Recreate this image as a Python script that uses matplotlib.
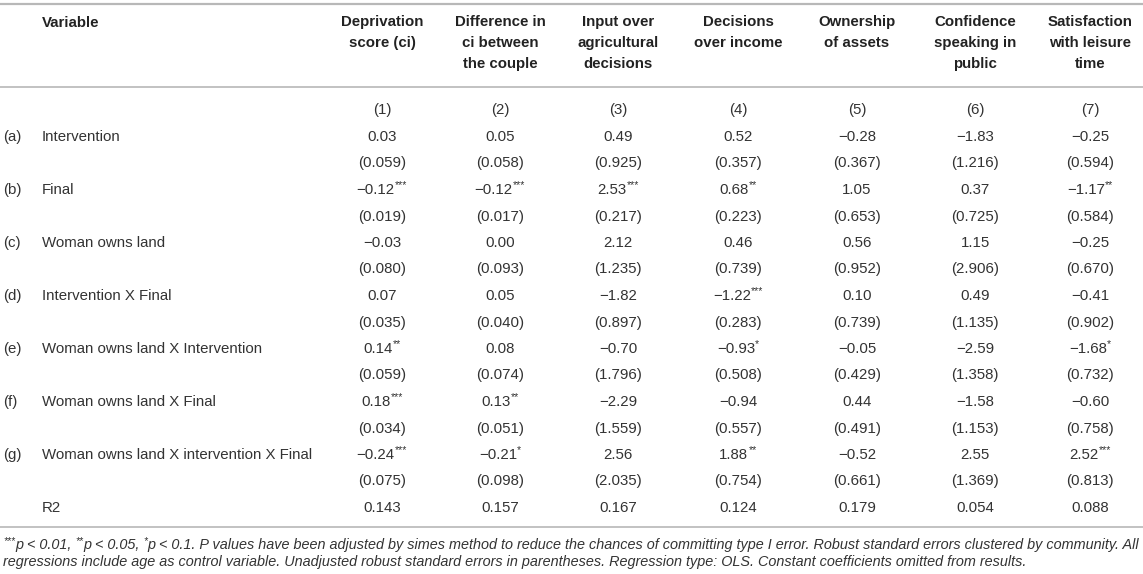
import matplotlib.pyplot as plt

plt.rcParams['font.family'] = ['Liberation Sans', 'DejaVu Sans']

# table content
outcomes = ["Deprivation\nscore (ci)", "Difference in\nci between\nthe couple",
            "Input over\nagricultural\ndecisions", "Decisions\nover income",
            "Ownership\nof assets", "Confidence\nspeaking in\npublic",
            "Satisfaction\nwith leisure\ntime"]
col_numbers = ["(1)", "(2)", "(3)", "(4)", "(5)", "(6)", "(7)"]
letters = ["(a)", "(b)", "(c)", "(d)", "(e)", "(f)", "(g)"]
variables = ["Intervention", "Final", "Woman owns land", "Intervention X Final",
             "Woman owns land X Intervention", "Woman owns land X Final",
             "Woman owns land X intervention X Final"]
coef = [
    [0.03, 0.05, 0.49, 0.52, -0.28, -1.83, -0.25],
    [-0.12, -0.12, 2.53, 0.68, 1.05, 0.37, -1.17],
    [-0.03, 0.00, 2.12, 0.46, 0.56, 1.15, -0.25],
    [0.07, 0.05, -1.82, -1.22, 0.10, 0.49, -0.41],
    [0.14, 0.08, -0.70, -0.93, -0.05, -2.59, -1.68],
    [0.18, 0.13, -2.29, -0.94, 0.44, -1.58, -0.60],
    [-0.24, -0.21, 2.56, 1.88, -0.52, 2.55, 2.52],
]
stars = [
    ["", "", "", "", "", "", ""],
    ["***", "***", "***", "**", "", "", "**"],
    ["", "", "", "", "", "", ""],
    ["", "", "", "***", "", "", ""],
    ["**", "", "", "*", "", "", "*"],
    ["***", "**", "", "", "", "", ""],
    ["***", "*", "", "**", "", "", "***"],
]
se = [
    [0.059, 0.058, 0.925, 0.357, 0.367, 1.216, 0.594],
    [0.019, 0.017, 0.217, 0.223, 0.653, 0.725, 0.584],
    [0.080, 0.093, 1.235, 0.739, 0.952, 2.906, 0.670],
    [0.035, 0.040, 0.897, 0.283, 0.739, 1.135, 0.902],
    [0.059, 0.074, 1.796, 0.508, 0.429, 1.358, 0.732],
    [0.034, 0.051, 1.559, 0.557, 0.491, 1.153, 0.758],
    [0.075, 0.098, 2.035, 0.754, 0.661, 1.369, 0.813],
]
r2 = [0.143, 0.157, 0.167, 0.124, 0.179, 0.054, 0.088]
# (text, superscript?) runs of the note under the table
note_line1 = [("***", True), ("p < 0.01, ", False), ("**", True), ("p < 0.05, ", False),
              ("*", True), ("p < 0.1. P values have been adjusted by simes method to reduce the chances "
                            "of committing type I error. Robust standard errors clustered by community. All", False)]
note_line2 = "regressions include age as control variable. Unadjusted robust standard errors in parentheses. " \
             "Regression type: OLS. Constant coefficients omitted from results."


def fmt(v, d):
    return f"{v:.{d}f}".replace("-", "\u2212")


W, H = 1143, 574
fig = plt.figure(figsize=(W / 100, H / 100), dpi=100)
ax = fig.add_axes([0, 0, 1, 1])
ax.set_xlim(0, W)
ax.set_ylim(H, 0)
ax.axis('off')
renderer = fig.canvas.get_renderer()

fs = 10.85
fs_note = 10.4
body = '#333333'
line_c = '#b8b8b8'
col_x = [382, 500, 618, 738, 857, 975, 1090]
x_letter, x_var = 3, 42


def width(t):
    return t.get_window_extent(renderer).width


def draw_runs(x, y, runs, size, center=False, **kw):
    # lay out normal and superscript pieces side by side
    texts = []
    for s, sup in runs:
        if sup:
            t = ax.text(0, y - size * 0.42, s, fontsize=size * 0.7, va='center', ha='left', **kw)
        else:
            t = ax.text(0, y, s, fontsize=size, va='center', ha='left', **kw)
        texts.append(t)
    ws = [width(t) for t in texts]
    cur = x - sum(ws) / 2 if center else x
    for t, w in zip(texts, ws):
        t.set_x(cur)
        cur += w


# rules
ax.plot([0, W], [4, 4], color=line_c, lw=1.6)
ax.plot([0, W], [87, 87], color=line_c, lw=1.2)
ax.plot([0, W], [527, 527], color=line_c, lw=1.2)

# header
ax.text(x_var, 23, "Variable", fontsize=fs, fontweight='bold', color='#222222', va='center')
for x, name in zip(col_x, outcomes):
    ax.text(x, 15, name, fontsize=fs, fontweight='bold', color='#222222',
            ha='center', va='top', linespacing=1.62)
for x, n in zip(col_x, col_numbers):
    ax.text(x, 110, n, fontsize=fs, color=body, ha='center', va='center')

# body rows
y0, step = 137, 26.5
for i in range(len(variables)):
    y = y0 + 2 * i * step
    ax.text(x_letter, y, letters[i], fontsize=fs, color=body, va='center')
    ax.text(x_var, y, variables[i], fontsize=fs, color=body, va='center')
    for j, x in enumerate(col_x):
        runs = [(fmt(coef[i][j], 2), False)]
        if stars[i][j]:
            runs.append((stars[i][j], True))
        draw_runs(x, y, runs, fs, center=True, color=body)
        ax.text(x, y + step, "(" + fmt(se[i][j], 3) + ")", fontsize=fs, color=body,
                ha='center', va='center')

y_r2 = y0 + 2 * len(variables) * step
ax.text(x_var, y_r2, "R2", fontsize=fs, color=body, va='center')
for x, v in zip(col_x, r2):
    ax.text(x, y_r2, fmt(v, 3), fontsize=fs, color=body, ha='center', va='center')

# note
draw_runs(x_letter, 545, note_line1, fs_note, style='italic', color=body)
ax.text(x_letter, 562, note_line2, fontsize=fs_note, style='italic', color=body, va='center')

fig.savefig("out.png", dpi=100)
